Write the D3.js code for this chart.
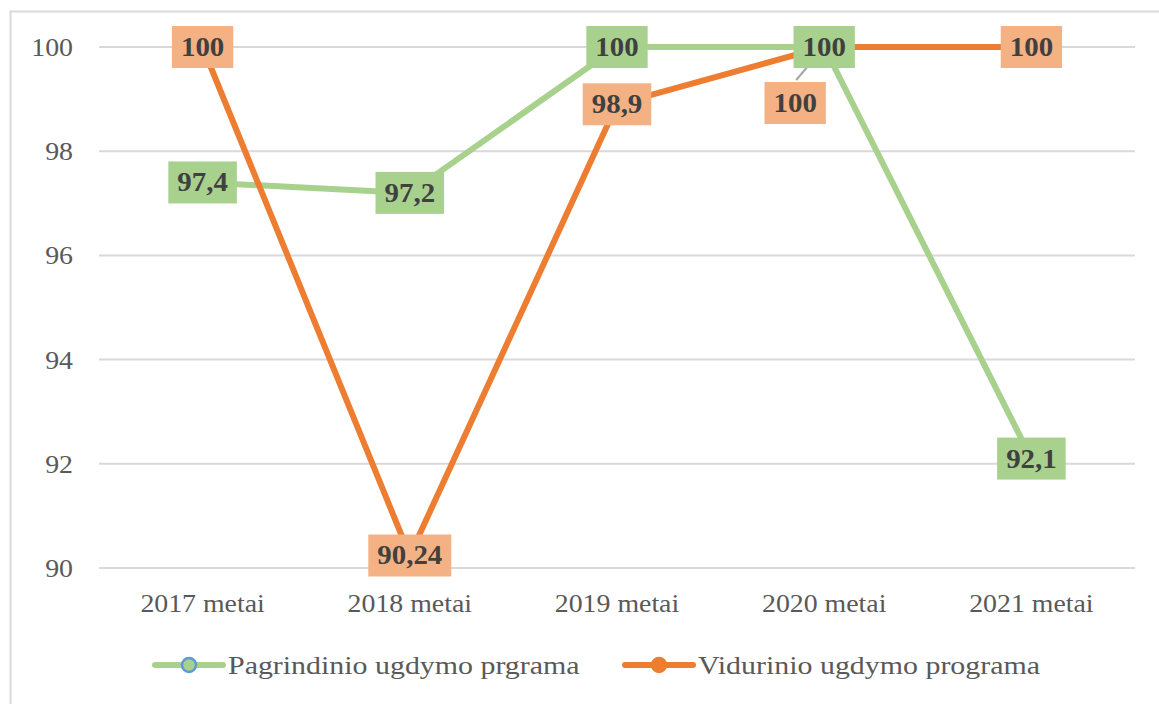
<!DOCTYPE html>
<html>
<head>
<meta charset="utf-8">
<script src="https://cdn.jsdelivr.net/npm/d3@7.9.0/dist/d3.min.js"></script>
<style>
  body { margin: 0; background: #fff; }
  svg text { font-family: "Liberation Serif", "Times New Roman", serif; }
</style>
</head>
<body>
<svg id="chart" width="1159" height="704"></svg>
<script>
const years = ['2017 metai', '2018 metai', '2019 metai', '2020 metai', '2021 metai'];
const pagrindinio = [97.4, 97.2, 100, 100, 92.1];
const vidurinio = [100, 90.24, 98.9, 100, 100];
const yTicks = [90, 92, 94, 96, 98, 100];
const seriesNames = ['Pagrindinio ugdymo prgrama', 'Vidurinio ugdymo programa'];
const labelText = ['97,4', '97,2', '100', '100', '92,1'];
const labelText2 = ['100', '90,24', '98,9', '100', '100'];

const svg = d3.select('#chart');
const green = '#a9d18e', orange = '#ed7d31', orangeLight = '#f4b183';
const stretch = 1.07;

// frame
svg.append('path').attr('d', 'M10.5,1000 V11.5 H1170')
  .attr('fill', 'none').attr('stroke', '#d9d9d9').attr('stroke-width', 2);

let x = d3.scalePoint().domain(years).range([99, 1135]).padding(0.5);
let y = d3.scaleLinear().domain([90, 100]).range([568, 47]);

// gridlines
svg.append('g').selectAll('line').data(yTicks).join('line')
  .attr('x1', 99).attr('x2', 1135)
  .attr('y1', d => y(d)).attr('y2', d => y(d))
  .attr('stroke', '#d9d9d9').attr('stroke-width', 2);

// y labels
let yLab = svg.append('g').selectAll('text').data(yTicks).join('text')
  .attr('x', 73).attr('y', d => y(d) + 9)
  .attr('text-anchor', 'end').attr('font-size', 26).attr('fill', '#595959')
  .text(d => d);

// x labels
let xLab = svg.append('g').selectAll('text').data(years).join('text')
  .attr('x', d => x(d)).attr('y', 612)
  .attr('text-anchor', 'middle').attr('font-size', 26).attr('fill', '#595959')
  .text(d => d);

let line = d3.line().x((d, i) => x(years[i])).y(d => y(d));

svg.append('path').datum(pagrindinio).attr('d', line)
  .attr('fill', 'none').attr('stroke', green).attr('stroke-width', 6).attr('stroke-linejoin', 'round');
svg.append('path').datum(vidurinio).attr('d', line)
  .attr('fill', 'none').attr('stroke', orange).attr('stroke-width', 6).attr('stroke-linejoin', 'round');

// leader line for moved 2020 label
let moved = { i: 3, dx: -29, dy: 56 };
svg.append('line')
  .attr('x1', x(years[3]) - 28).attr('y1', y(vidurinio[3]) + 33)
  .attr('x2', x(years[3])).attr('y2', y(vidurinio[3]))
  .attr('stroke', '#a6a6a6').attr('stroke-width', 2);

function addLabels(vals, texts, fill, offset) {
  let g = svg.append('g');
  vals.forEach((v, i) => {
    let cx = x(years[i]), cy = y(v);
    if (offset && offset.i === i) { cx += offset.dx; cy += offset.dy; }
    let lg = g.append('g').attr('transform', `translate(${cx},${cy})`);
    let rect = lg.append('rect').attr('fill', fill);
    let t = lg.append('text').attr('text-anchor', 'middle').attr('y', 9)
      .attr('font-size', 27).attr('font-weight', 'bold').attr('fill', '#404040')
      .text(texts[i]);
    let w = t.node().getComputedTextLength() * stretch;
    t.attr('textLength', w).attr('lengthAdjust', 'spacingAndGlyphs');
    let bw = w + 18, bh = 42;
    rect.attr('x', -bw / 2).attr('y', -bh / 2).attr('width', bw).attr('height', bh);
  });
}
addLabels(pagrindinio, labelText, green, null);
addLabels(vidurinio, labelText2, orangeLight, moved);

// legend
let leg = svg.append('g');
let legItems = [
  { name: seriesNames[0], x: 155, color: green, marker: green, mstroke: '#5b9bd5' },
  { name: seriesNames[1], x: 625, color: orange, marker: orange, mstroke: orange }
];
legItems.forEach(d => {
  leg.append('line').attr('x1', d.x).attr('x2', d.x + 68).attr('y1', 665).attr('y2', 665)
    .attr('stroke', d.color).attr('stroke-width', 6).attr('stroke-linecap', 'round');
  leg.append('circle').attr('cx', d.x + 34).attr('cy', 665).attr('r', 7)
    .attr('fill', d.marker).attr('stroke', d.mstroke).attr('stroke-width', 2.5);
  let t = leg.append('text').attr('x', d.x + 73).attr('y', 674)
    .attr('font-size', 26).attr('fill', '#595959').text(d.name);
  let w = t.node().getComputedTextLength() * 1.15;
  t.attr('textLength', w).attr('lengthAdjust', 'spacingAndGlyphs');
});

[yLab, xLab].forEach(sel => sel.each(function () {
  let w = this.getComputedTextLength() * stretch;
  d3.select(this).attr('textLength', w).attr('lengthAdjust', 'spacingAndGlyphs');
}));
</script>
</body>
</html>
